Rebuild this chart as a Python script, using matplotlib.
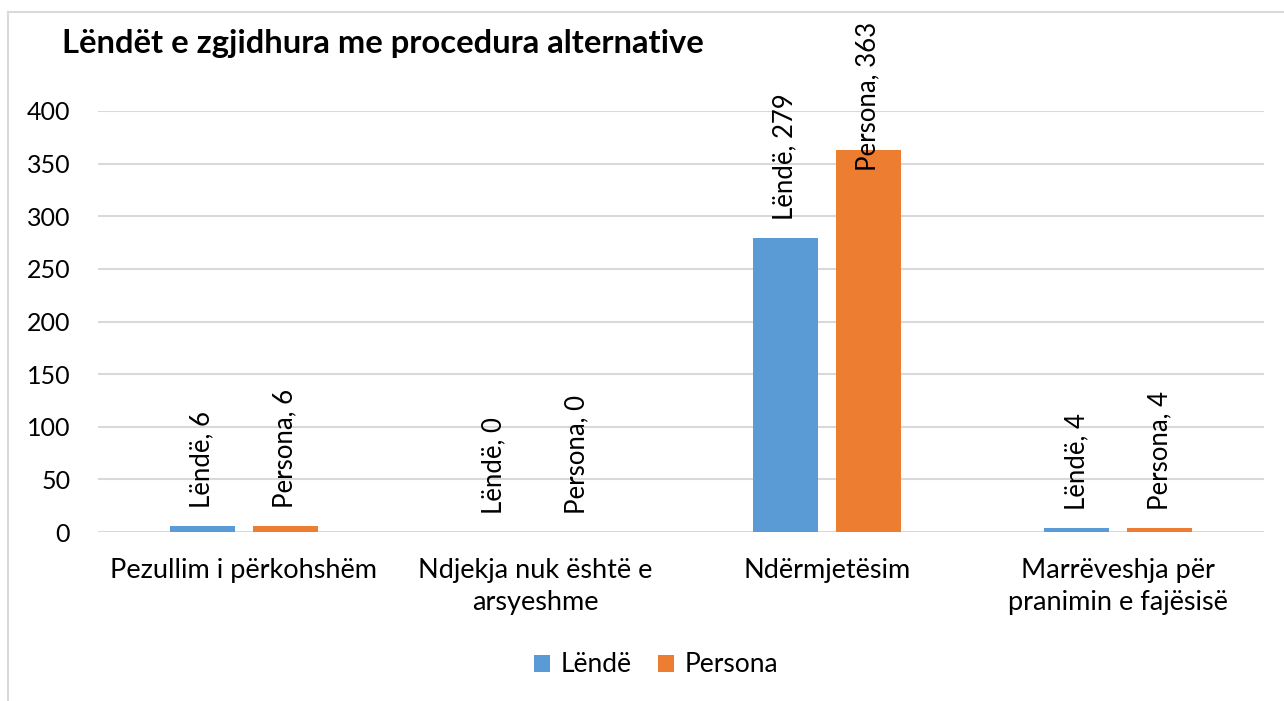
"""Bar chart: cases resolved through alternative procedures."""

import matplotlib.pyplot as plt
import numpy as np
from matplotlib.lines import Line2D
from matplotlib.patches import Patch

plt.rcParams["font.family"] = ["Lato", "DejaVu Sans"]

CATEGORIES = [
    "Pezullim i përkohshëm",
    "Ndjekja nuk është e\narsyeshme",
    "Ndërmjetësim",
    "Marrëveshja për\npranimin e fajësisë",
]
SERIES = ["Lëndë", "Persona"]
LENDE = [6, 0, 279, 4]
PERSONA = [6, 0, 363, 4]
Y_TICKS = [0, 50, 100, 150, 200, 250, 300, 350, 400]

COLORS = ["#5B9BD5", "#ED7D31"]
GRID = "#D9D9D9"
W, H = 1284, 701


def main():
    fig = plt.figure(figsize=(W / 100, H / 100), dpi=100)
    ax = fig.add_axes([98 / W, 1 - 532 / H, (1264 - 98) / W, (532 - 111) / H])

    x = np.arange(len(CATEGORIES))
    bar_w = 0.223
    offset = 0.1425
    labels = []
    for i, (name, vals) in enumerate(zip(SERIES, [LENDE, PERSONA])):
        pos = x + (i * 2 - 1) * offset
        ax.bar(pos, vals, width=bar_w, color=COLORS[i], zorder=3)
        for px, v in zip(pos, vals):
            t = ax.annotate(
                f"{name}, {v}", (px, v), xytext=(0, 13), textcoords="offset points",
                rotation=90, ha="center", va="bottom", fontsize=18.5,
                annotation_clip=False,
            )
            labels.append(t)

    ax.set_xlim(-0.5, len(CATEGORIES) - 0.5)
    ax.set_ylim(0, 400)
    ax.set_yticks(Y_TICKS)
    ax.set_xticks(x)
    ax.set_xticklabels(CATEGORIES, fontsize=19.5, linespacing=1.32)
    ax.tick_params(axis="y", length=0, pad=20, labelsize=18)
    ax.tick_params(axis="x", length=0, pad=19)
    ax.grid(axis="y", color=GRID, linewidth=1.5, zorder=0)
    for s in ax.spines.values():
        s.set_visible(False)

    # labels that would run past the top of the chart are pushed down
    fig.canvas.draw()
    renderer = fig.canvas.get_renderer()
    limit = H - 22
    for t in labels:
        bb = t.get_window_extent(renderer)
        if bb.y1 > limit:
            shift = (bb.y1 - limit) * 72 / fig.dpi
            ox, oy = t.xyann
            t.xyann = (ox, oy - shift)

    fig.text(62 / W, 1 - 53 / H, "Lëndët e zgjidhura me procedura alternative",
             fontsize=23.6, fontweight="bold", va="baseline", ha="left")

    handles = [Patch(facecolor=c, label=s) for c, s in zip(COLORS, SERIES)]
    fig.legend(handles=handles, loc="center", bbox_to_anchor=(656 / W, 1 - 665 / H),
               ncol=2, frameon=False, fontsize=19, handlelength=0.6, handleheight=0.6,
               handletextpad=0.4, columnspacing=1.0)

    # chart area border
    fig.add_artist(Line2D([8 / W, 8 / W], [0, 1 - 12 / H], color=GRID, linewidth=1.5))
    fig.add_artist(Line2D([8 / W, 1], [1 - 12 / H, 1 - 12 / H], color=GRID, linewidth=1.5))

    fig.savefig("out.png", dpi=100)


if __name__ == "__main__":
    main()
